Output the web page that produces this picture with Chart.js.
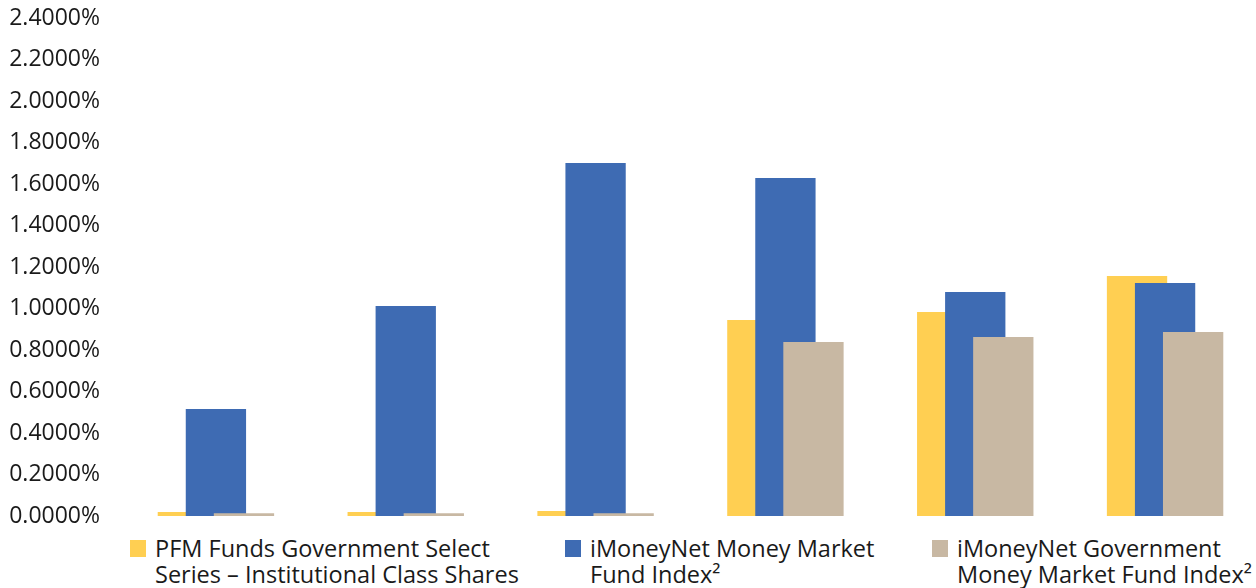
<!DOCTYPE html>
<html lang="en">
<head>
  <meta charset="UTF-8" />
  <title>Yields comparison</title>
  <script src="https://cdn.jsdelivr.net/npm/chart.js"></script>
  <style>
    body { margin: 0; background: #fff; font-family: 'Open Sans', sans-serif; color: #1a1a1a; overflow: hidden; }
    #wrap { position: relative; width: 1256px; height: 588px; overflow: hidden; }
    #chart { position: absolute; left: 0; top: 0; }
    .legend-item { position: absolute; top: 535px; display: flex; }
    .legend-box { width: 16px; height: 17px; margin-top: 5px; margin-right: 9px; flex: none; }
    .legend-text { font-size: 23.5px; line-height: 26px; white-space: nowrap; }
  </style>
</head>
<body>
  <div id="wrap">
    <!-- plot runs a few px past the right edge, as in the original -->
    <canvas id="chart" width="1260" height="526"></canvas>
    <div id="legend"></div>
  </div>

  <script>
    const categories = ["1", "2", "3", "4", "5", "6"];
    const seriesNames = [
      ["PFM Funds Government Select", "Series \u2013 Institutional Class Shares"],
      ["iMoneyNet Money Market", "Fund Index\u00B2"],
      ["iMoneyNet Government", "Money Market Fund Index\u00B2"]
    ];
    const pfmValues = [0.019, 0.019, 0.024, 0.945, 0.983, 1.157];
    const mmfValues = [0.516, 1.012, 1.701, 1.629, 1.080, 1.123];
    const govValues = [0.013, 0.013, 0.013, 0.839, 0.863, 0.887];
    const yTicks = [0, 0.2, 0.4, 0.6, 0.8, 1.0, 1.2, 1.4, 1.6, 1.8, 2.0, 2.2, 2.4];
    const colors = ["#FFCF52", "#3E6BB3", "#C8B8A3"];
    const legendLeft = [130, 565, 932];

    const series = [pfmValues, mmfValues, govValues];

    // draw datasets first-to-last so the later series overlap the earlier ones
    const drawInOrder = {
      id: "drawInOrder",
      beforeDatasetsDraw(chart) {
        chart.getSortedVisibleDatasetMetas().forEach(meta => meta.controller.draw());
        return false;
      }
    };

    new Chart(document.getElementById("chart"), {
      type: "bar",
      data: {
        labels: categories,
        datasets: series.map((vals, i) => ({
          label: seriesNames[i].join(" "),
          data: vals,
          backgroundColor: colors[i],
          borderWidth: 0,
          categoryPercentage: 0.4433,
          barPercentage: 2.15
        }))
      },
      options: {
        responsive: false,
        animation: false,
        layout: { padding: { top: 18, right: 0, bottom: 10, left: 0 } },
        plugins: { legend: { display: false }, tooltip: { enabled: false } },
        scales: {
          x: { display: false },
          y: {
            min: 0,
            max: 2.4,
            afterFit: (scale) => {
              scale.width = 121;
              scale.paddingTop = 0;
              scale.paddingBottom = 0;
            },
            afterBuildTicks: (scale) => { scale.ticks = yTicks.map(v => ({ value: v })); },
            grid: { display: false, drawTicks: false },
            border: { display: false },
            ticks: {
              padding: 21,
              color: "#1a1a1a",
              font: { family: "Open Sans", size: 23 },
              callback: (v) => Number(v).toFixed(4) + "%"
            }
          }
        }
      },
      plugins: [drawInOrder]
    });

    // legend in html so the two-line labels wrap like the original
    const legend = document.getElementById("legend");
    seriesNames.forEach((lines, i) => {
      const item = document.createElement("div");
      item.className = "legend-item";
      item.style.left = legendLeft[i] + "px";
      item.innerHTML = `<div class="legend-box" style="background:${colors[i]}"></div>` +
        `<div class="legend-text">${lines.join("<br>")}</div>`;
      legend.appendChild(item);
    });
  </script>
</body>
</html>
